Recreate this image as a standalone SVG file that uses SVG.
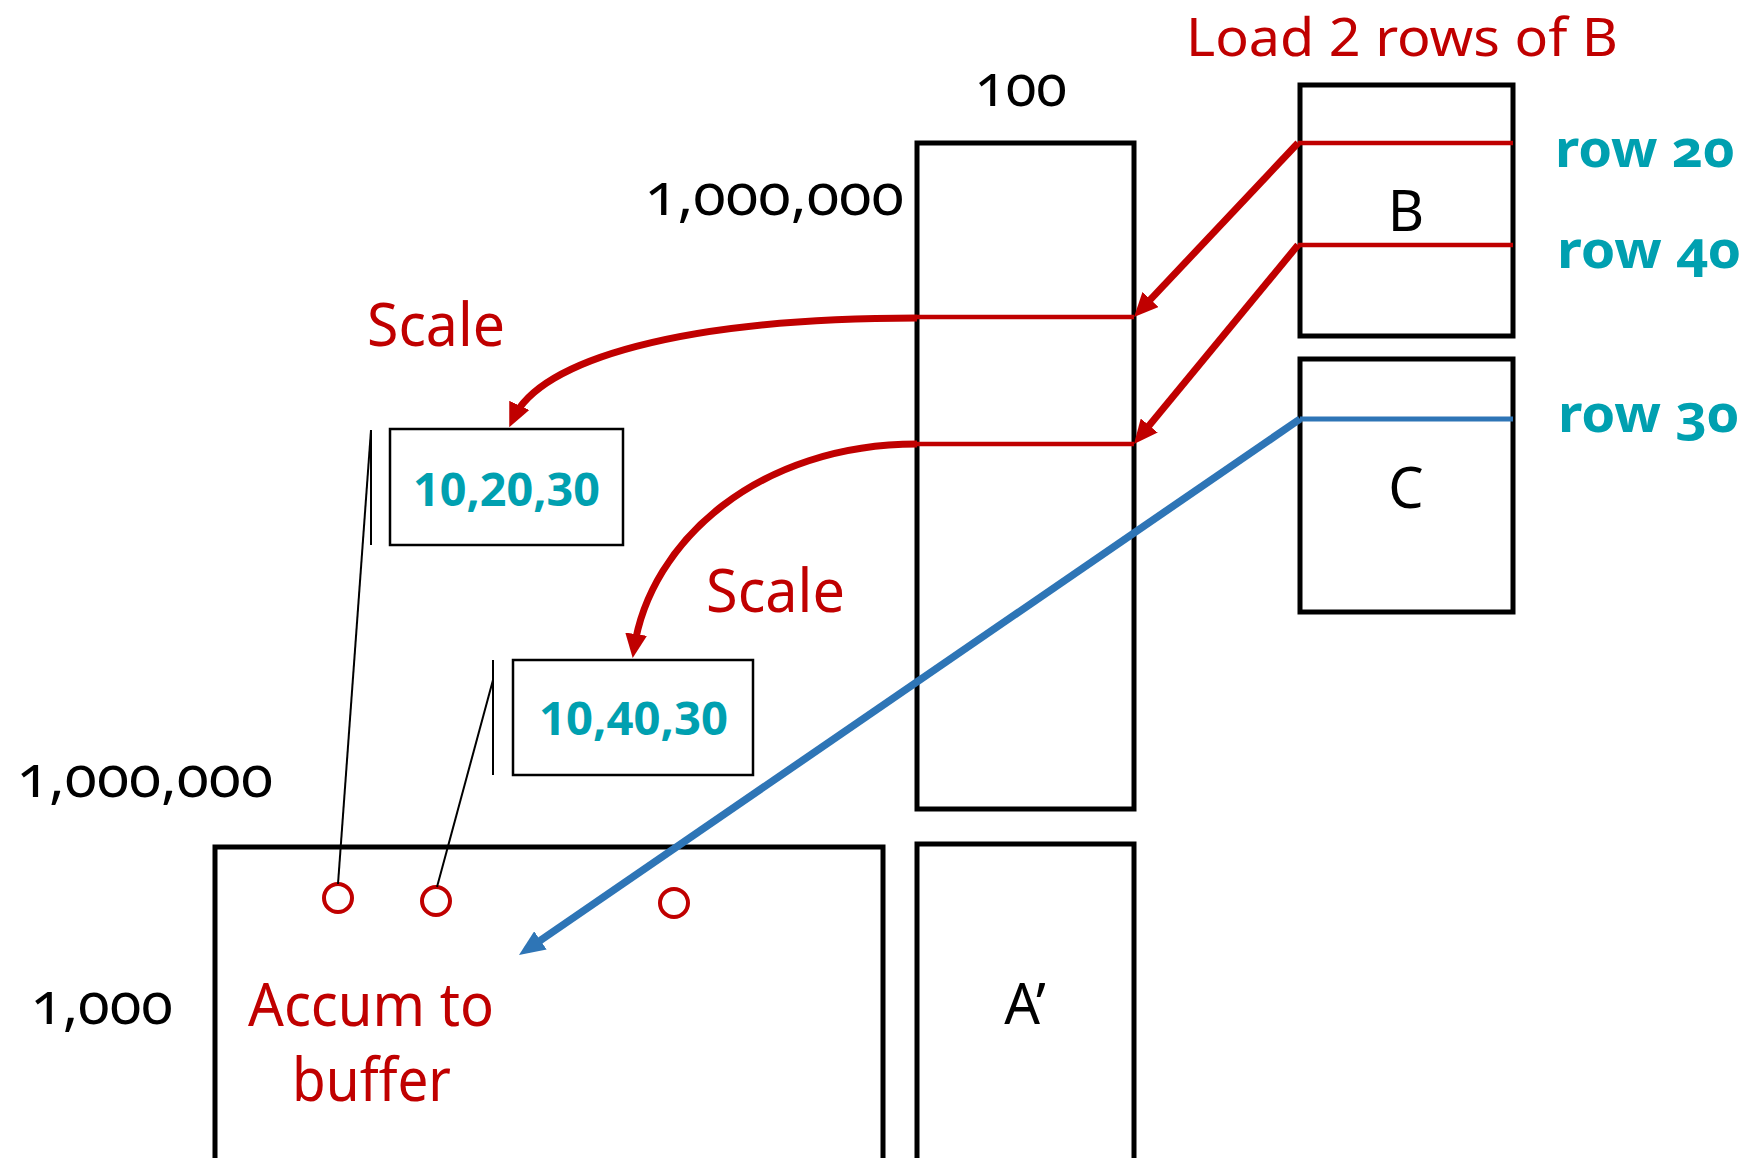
<svg xmlns="http://www.w3.org/2000/svg" width="1750" height="1158" viewBox="0 0 1750 1158">
  <style>
    .box { fill: none; stroke: #000; stroke-width: 5; }
    .thin { fill: none; stroke: #000; stroke-width: 2.5; }
    .lead { fill: none; stroke: #000; stroke-width: 2; }
    .rrow { stroke: #c00000; stroke-width: 4.5; }
    .rarr { fill: none; stroke: #c00000; stroke-width: 7; }
    .barr { fill: none; stroke: #2e75b6; stroke-width: 7.5; }
    .dot { fill: none; stroke: #c00000; stroke-width: 4; }
    text { font-family: "Noto Sans", "Open Sans", "Liberation Sans", sans-serif; }
    .dim { fill: #000; font-size: 58px; font-variant-numeric: oldstyle-nums; }
    .red { fill: #c00000; font-size: 60px; }
    .teal { fill: #00a0b0; font-size: 52px; font-weight: bold; font-variant-numeric: oldstyle-nums; }
    .ids { fill: #00a0b0; font-size: 46px; font-weight: bold; }
    .lbl { fill: #000; font-size: 56px; text-anchor: middle; }
  </style>
  <defs>
    <marker id="ahRed" viewBox="0 0 24 22" refX="15" refY="11" markerWidth="24" markerHeight="22" markerUnits="userSpaceOnUse" orient="auto">
      <path d="M0,0 L24,11 L0,22 z" fill="#c00000"/>
    </marker>
    <marker id="ahBlue" viewBox="0 0 26 22" refX="17" refY="11" markerWidth="26" markerHeight="22" markerUnits="userSpaceOnUse" orient="auto">
      <path d="M0,0 L26,11 L0,22 z" fill="#2e75b6"/>
    </marker>
  </defs>

  <!-- Title -->
  <text class="red" x="1186" y="56" style="font-size:52px" textLength="432" lengthAdjust="spacingAndGlyphs">Load 2 rows of B</text>

  <!-- Matrix A column block -->
  <g id="matA">
    <rect class="box" x="917" y="143" width="217" height="666"/>
    <text class="dim" x="975" y="106" textLength="92" lengthAdjust="spacingAndGlyphs">100</text>
    <text class="dim" x="645" y="215" textLength="259" lengthAdjust="spacingAndGlyphs">1,000,000</text>
    <line class="rrow" x1="917" y1="317" x2="1134" y2="317"/>
    <line class="rrow" x1="917" y1="444" x2="1134" y2="444"/>
  </g>

  <!-- Matrix B -->
  <g id="matB">
    <rect class="box" x="1300" y="85" width="213" height="251"/>
    <line class="rrow" x1="1298" y1="143" x2="1513" y2="143"/>
    <line class="rrow" x1="1298" y1="245" x2="1513" y2="245"/>
    <text class="lbl" x="1406" y="231">B</text>
    <text class="teal" x="1555" y="167" textLength="180" lengthAdjust="spacingAndGlyphs">row 20</text>
    <text class="teal" x="1557" y="268" textLength="184" lengthAdjust="spacingAndGlyphs">row 40</text>
  </g>

  <!-- Matrix C -->
  <g id="matC">
    <rect class="box" x="1300" y="359" width="213" height="253"/>
    <line x1="1300" y1="419" x2="1513" y2="419" stroke="#2e75b6" stroke-width="5"/>
    <text class="lbl" x="1406" y="508">C</text>
    <text class="teal" x="1558" y="432" textLength="181" lengthAdjust="spacingAndGlyphs">row 30</text>
  </g>

  <!-- Output A' -->
  <g id="matAp">
    <rect class="box" x="917" y="844" width="217" height="318"/>
    <text class="lbl" x="1025" y="1024">A’</text>
  </g>

  <!-- Accumulation buffer -->
  <g id="buffer">
    <rect class="box" x="215" y="847" width="668" height="315"/>
    <text class="dim" x="17" y="797" textLength="256" lengthAdjust="spacingAndGlyphs">1,000,000</text>
    <text class="dim" x="31" y="1024" textLength="142" lengthAdjust="spacingAndGlyphs">1,000</text>
    <circle class="dot" cx="338" cy="898" r="14"/>
    <circle class="dot" cx="436" cy="901" r="14"/>
    <circle class="dot" cx="674" cy="903" r="14"/>
    <text class="red" x="248" y="1026" textLength="246" lengthAdjust="spacingAndGlyphs">Accum to</text>
    <text class="red" x="292" y="1101" textLength="159" lengthAdjust="spacingAndGlyphs">buffer</text>
  </g>

  <!-- Scaled row 20 entry -->
  <g id="entry1">
    <rect class="thin" x="390" y="429" width="233" height="116"/>
    <text class="ids" x="413" y="506" textLength="187" lengthAdjust="spacingAndGlyphs">10,20,30</text>
    <line class="lead" x1="371" y1="430" x2="371" y2="545"/>
    <line class="lead" x1="371" y1="430" x2="338" y2="884"/>
  </g>

  <!-- Scaled row 40 entry -->
  <g id="entry2">
    <rect class="thin" x="513" y="660" width="240" height="115"/>
    <text class="ids" x="539" y="735" textLength="189" lengthAdjust="spacingAndGlyphs">10,40,30</text>
    <line class="lead" x1="493" y1="660" x2="493" y2="775"/>
    <line class="lead" x1="493" y1="680" x2="437" y2="887"/>
  </g>

  <text class="red" x="367" y="346" textLength="138" lengthAdjust="spacingAndGlyphs">Scale</text>
  <text class="red" x="706" y="612" textLength="139" lengthAdjust="spacingAndGlyphs">Scale</text>

  <!-- Connectors -->
  <g id="connectors">
    <line class="rarr" x1="1298" y1="143" x2="1140.2" y2="310.4" marker-end="url(#ahRed)"/>
    <line class="rarr" x1="1298" y1="245" x2="1139.7" y2="437.1" marker-end="url(#ahRed)"/>
    <path class="rarr" d="M917,318 C680,318 540,360 513,419" marker-end="url(#ahRed)"/>
    <path class="rarr" d="M917,444 C760,444 650,540 634,649" marker-end="url(#ahRed)"/>
    <line class="barr" x1="1300" y1="419" x2="526.4" y2="950" marker-end="url(#ahBlue)"/>
  </g>
</svg>
